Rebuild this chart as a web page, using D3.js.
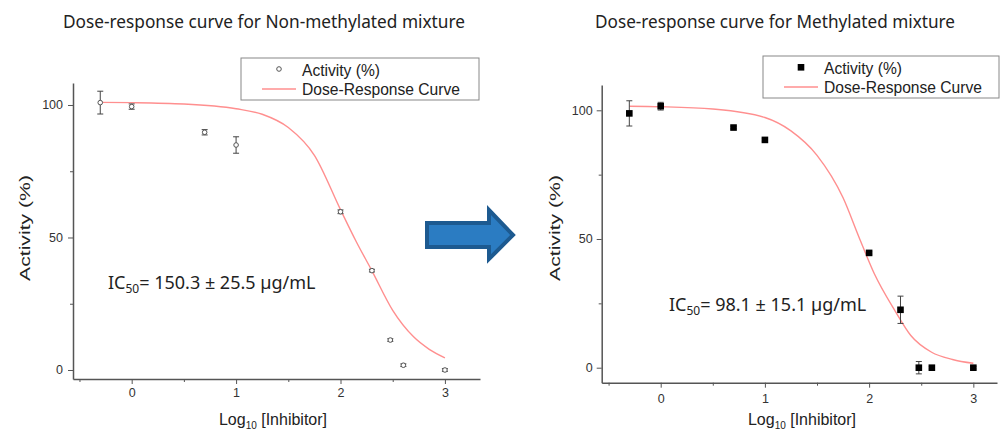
<!DOCTYPE html>
<html>
<head>
<meta charset="utf-8">
<script src="https://cdn.jsdelivr.net/npm/d3@7"></script>
<style>
  body { margin: 0; background: #fff; }
  svg { display: block; }
  .axis path, .axis line { stroke: #555; }
  .axis text { font-family: "Liberation Sans", Arial, sans-serif; fill: #333; }
</style>
</head>
<body>
<div id="app"></div>
<script>
const W = 1006, H = 435

// log10 of inhibitor concentration
const doseLog = [-0.301, 0, 0.699, 1, 2, 2.301, 2.477, 2.602, 3]

// non-methylated mixture
const nonMethActivity = [100.9, 99.4, 89.7, 84.9, 59.7, 37.5, 11.3, 1.8, 0]
const nonMethError = [4.3, 1.0, 1.0, 3.1, 0.7, 0.5, 0.5, 0.5, 0.5]
const nonMethCurveX = [-0.3, 0, 0.5, 1, 1.25, 1.5, 1.75, 2, 2.15, 2.3, 2.5, 2.7, 2.85, 3]
const nonMethCurveY = [101, 100.9, 100.4, 98.6, 96.5, 91.5, 81, 60.5, 48.5, 37.5, 22.5, 12.5, 7.8, 4.6]

// methylated mixture
const methActivity = [98.8, 101.6, 93.3, 88.5, 44.6, 22.5, 0, 0, 0]
const methError = [4.9, 1.5, 0.5, 0.5, 0.5, 5.3, 2.4, 0.5, 0.5]
const methCurveX = [-0.3, 0, 0.5, 1, 1.25, 1.5, 1.75, 1.9, 2.05, 2.25, 2.4, 2.6, 2.8, 3]
const methCurveY = [101.6, 101.4, 100.5, 97.2, 92, 82.5, 66, 51, 36.5, 22, 12.5, 6, 3.2, 1.7]

const xTicks = [0, 1, 2, 3]
const xMinorTicks = [-0.5, 0.5, 1.5, 2.5]
const yTicks = [0, 50, 100]
const yMinorTicks = [25, 75]

const legendLabels = ['Activity (%)', 'Dose-Response Curve']
const CURVE_COLOR = '#ff8f8f'

const svg = d3.select('#app').append('svg')
  .attr('width', W)
  .attr('height', H)

function panel(cfg) {
  const x = d3.scaleLinear().domain(cfg.xDomain).range([cfg.left, cfg.right])
  const y = d3.scaleLinear().domain(cfg.yDomain).range([cfg.bottom, cfg.top])
  const g = svg.append('g')

  // title
  g.append('text')
    .attr('x', cfg.titleX)
    .attr('y', 28)
    .attr('text-anchor', 'middle')
    .attr('textLength', cfg.titleW)
    .attr('lengthAdjust', 'spacingAndGlyphs')
    .style('font-family', '"Noto Sans", sans-serif')
    .style('font-size', '18px')
    .style('fill', '#222')
    .text(cfg.title)

  // axes, minor ticks first
  g.append('g').attr('class', 'axis')
    .attr('transform', 'translate(0,' + cfg.bottom + ')')
    .call(d3.axisBottom(x).tickValues(xMinorTicks).tickSize(3).tickSizeOuter(0).tickFormat(''))
    .call(a => a.select('.domain').remove())
  g.append('g').attr('class', 'axis')
    .attr('transform', 'translate(' + cfg.left + ',0)')
    .call(d3.axisLeft(y).tickValues(yMinorTicks).tickSize(3).tickSizeOuter(0).tickFormat(''))
    .call(a => a.select('.domain').remove())

  g.append('g').attr('class', 'axis')
    .attr('transform', 'translate(0,' + cfg.bottom + ')')
    .call(d3.axisBottom(x).tickValues(xTicks).tickSize(5).tickPadding(cfg.xPad).tickSizeOuter(0).tickFormat(d3.format('d')))
    .call(a => a.selectAll('text').style('font-size', '12.5px'))
    .call(a => a.select('.domain').attr('stroke-width', 1.5))
  g.append('g').attr('class', 'axis')
    .attr('transform', 'translate(' + cfg.left + ',0)')
    .call(d3.axisLeft(y).tickValues(yTicks).tickSize(5).tickPadding(cfg.yPad).tickSizeOuter(0))
    .call(a => a.selectAll('text').style('font-size', '12.5px'))
    .call(a => a.select('.domain').attr('stroke-width', 1.5))

  // axis titles
  const xl = g.append('text')
    .attr('x', cfg.xLabelX)
    .attr('y', 425)
    .attr('text-anchor', 'middle')
    .style('font-family', '"Liberation Sans", Arial, sans-serif')
    .style('font-size', '16px')
    .style('fill', '#222')
  xl.append('tspan').text('Log')
  xl.append('tspan').attr('dy', 4).style('font-size', '10px').text('10')
  xl.append('tspan').attr('dy', -4).text(' [Inhibitor]')

  g.append('text')
    .attr('transform', 'translate(' + cfg.yLabelX + ',228) rotate(-90)')
    .attr('text-anchor', 'middle')
    .attr('dy', '0.35em')
    .attr('textLength', 106)
    .attr('lengthAdjust', 'spacingAndGlyphs')
    .style('font-family', '"Liberation Sans", Arial, sans-serif')
    .style('font-size', '15px')
    .style('fill', '#222')
    .text('Activity (%)')

  // fitted curve
  const curvePts = cfg.curveX.map((d, i) => [d, cfg.curveY[i]])
  g.append('path')
    .datum(curvePts)
    .attr('fill', 'none')
    .attr('stroke', CURVE_COLOR)
    .attr('stroke-width', 1.4)
    .attr('d', d3.line().x(d => x(d[0])).y(d => y(d[1])).curve(d3.curveMonotoneX))

  // error bars + points
  const pts = doseLog.map((d, i) => ({ x: d, y: cfg.activity[i], e: cfg.error[i] }))
  const eb = g.selectAll('.err').data(pts).enter().append('g')
    .attr('stroke', '#444').attr('stroke-width', 1)
  eb.append('line')
    .attr('x1', d => x(d.x)).attr('x2', d => x(d.x))
    .attr('y1', d => y(d.y - d.e)).attr('y2', d => y(d.y + d.e))
  eb.append('line')
    .attr('x1', d => x(d.x) - 3).attr('x2', d => x(d.x) + 3)
    .attr('y1', d => y(d.y - d.e)).attr('y2', d => y(d.y - d.e))
  eb.append('line')
    .attr('x1', d => x(d.x) - 3).attr('x2', d => x(d.x) + 3)
    .attr('y1', d => y(d.y + d.e)).attr('y2', d => y(d.y + d.e))

  if (cfg.marker === 'circle') {
    g.selectAll('.pt').data(pts).enter().append('circle')
      .attr('cx', d => x(d.x)).attr('cy', d => y(d.y)).attr('r', 2.3)
      .attr('fill', '#fff').attr('stroke', '#555').attr('stroke-width', 1)
  } else {
    g.selectAll('.pt').data(pts).enter().append('rect')
      .attr('x', d => x(d.x) - 3.3).attr('y', d => y(d.y) - 3.3)
      .attr('width', 6.6).attr('height', 6.6).attr('fill', '#000')
  }

  // IC50 annotation
  const ic = g.append('text')
    .attr('x', cfg.icX)
    .attr('y', cfg.icY)
    .style('font-family', '"Noto Sans", sans-serif')
    .style('font-size', '18px')
    .style('fill', '#222')
  ic.append('tspan').text('IC')
  ic.append('tspan').attr('dy', 4).style('font-size', '12px').text('50')
  ic.append('tspan').attr('dy', -4).text(cfg.icText)

  // legend
  const lg = g.append('g')
  lg.append('rect')
    .attr('x', cfg.legX).attr('y', cfg.legY)
    .attr('width', cfg.legW).attr('height', 42)
    .attr('fill', '#fff').attr('stroke', '#888').attr('stroke-width', 1)
  const sx = cfg.legX + cfg.legSym
  if (cfg.marker === 'circle') {
    lg.append('circle').attr('cx', sx).attr('cy', cfg.legY + 11).attr('r', 2.3)
      .attr('fill', '#fff').attr('stroke', '#555')
  } else {
    lg.append('rect').attr('x', sx - 3.3).attr('y', cfg.legY + 8).attr('width', 6.6).attr('height', 6.6)
      .attr('fill', '#000')
  }
  lg.append('line')
    .attr('x1', sx - 17).attr('x2', sx + 17)
    .attr('y1', cfg.legY + 31).attr('y2', cfg.legY + 31)
    .attr('stroke', CURVE_COLOR).attr('stroke-width', 1.4)
  lg.selectAll('.lt').data(legendLabels).enter().append('text')
    .attr('x', cfg.legX + cfg.legText)
    .attr('y', (d, i) => cfg.legY + 18 + i * 19)
    .attr('textLength', (d, i) => i === 0 ? 78 : 158)
    .attr('lengthAdjust', 'spacingAndGlyphs')
    .style('font-family', '"Liberation Sans", Arial, sans-serif')
    .style('font-size', '17px')
    .style('fill', '#222')
    .text(d => d)
}

panel({
  title: 'Dose-response curve for Non-methylated mixture', titleX: 264, titleW: 402,
  left: 73, right: 480, top: 83, bottom: 379,
  xDomain: [-0.562, 3.336], yDomain: [-3.4, 108.3],
  xPad: 4, yPad: 5,
  xLabelX: 273, yLabelX: 25,
  activity: nonMethActivity, error: nonMethError,
  curveX: nonMethCurveX, curveY: nonMethCurveY,
  marker: 'circle',
  icX: 108, icY: 289, icText: '= 150.3 ± 25.5 µg/mL',
  legX: 241, legY: 58, legW: 238, legSym: 38, legText: 61
})

panel({
  title: 'Dose-response curve for Methylated mixture', titleX: 775, titleW: 360,
  left: 601.7, right: 997, top: 85, bottom: 382.7,
  xDomain: [-0.566, 3.227], yDomain: [-5.83, 109.83],
  xPad: 6, yPad: 4,
  xLabelX: 802, yLabelX: 555,
  activity: methActivity, error: methError,
  curveX: methCurveX, curveY: methCurveY,
  marker: 'square',
  icX: 669, icY: 311, icText: '= 98.1 ± 15.1 µg/mL',
  legX: 763, legY: 56, legW: 236, legSym: 38, legText: 61
})

// arrow between the two panels
svg.append('path')
  .attr('d', 'M427,223 L489,223 L489,210 L513,235 L489,259 L489,247 L427,247 Z')
  .attr('fill', '#2b7cc2')
  .attr('stroke', '#1d5a90')
  .attr('stroke-width', 4)
  .attr('stroke-linejoin', 'miter')
</script>
</body>
</html>
